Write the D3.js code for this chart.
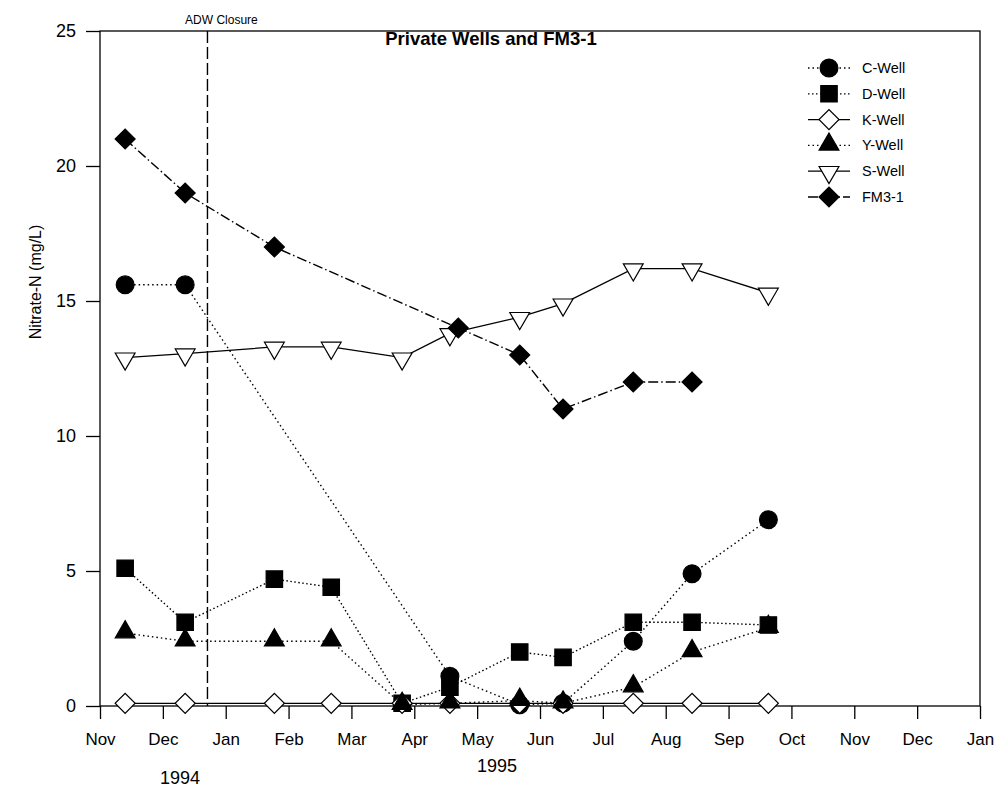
<!DOCTYPE html>
<html>
<head>
<meta charset="utf-8">
<script src="https://cdn.jsdelivr.net/npm/d3@7"></script>
<style>
	body { margin: 0; background: white; }
	text { font-family: "Liberation Sans", Arial, sans-serif; }
</style>
</head>
<body>
<script>
// sampling dates, month labels and measured values
let sampleDates = ['1994-11-13', '1994-12-12', '1995-01-25', '1995-02-20', '1995-03-26',
	'1995-04-18', '1995-05-22', '1995-06-12', '1995-07-16', '1995-08-14', '1995-09-20'];
let fmDates = ['1994-11-13', '1994-12-12', '1995-01-25', '1995-04-22', '1995-05-22',
	'1995-06-12', '1995-07-16', '1995-08-14'];
let monthLabels = ['Nov', 'Dec', 'Jan', 'Feb', 'Mar', 'Apr', 'May', 'Jun', 'Jul', 'Aug',
	'Sep', 'Oct', 'Nov', 'Dec', 'Jan'];
let yTicks = [0, 5, 10, 15, 20, 25];
let closureDate = '1994-12-23';

let cWell = [15.6, 15.6, null, null, null, 1.1, 0.05, 0.1, 2.4, 4.9, 6.9];
let dWell = [5.1, 3.1, 4.7, 4.4, 0.1, 0.7, 2.0, 1.8, 3.1, 3.1, 3.0];
let kWell = [0.1, 0.1, 0.1, 0.1, 0.1, 0.1, 0.1, 0.1, 0.1, 0.1, 0.1];
let yWell = [2.7, 2.4, 2.4, 2.4, 0.05, 0.1, 0.2, 0.1, 0.7, 2.0, 2.9];
let sWell = [12.9, 13.05, 13.3, 13.3, 12.9, 13.8, 14.4, 14.9, 16.2, 16.2, 15.3];
let fm31 = [21, 19, 17, 14, 13, 11, 12, 12];

// months since 1 Nov 1994, with the day as a fraction of the month
function monthIndex(s) {
	let d = new Date(s + 'T00:00:00');
	let m = (d.getFullYear() - 1994) * 12 + d.getMonth() - 10;
	let days = new Date(d.getFullYear(), d.getMonth() + 1, 0).getDate();
	return m + (d.getDate() - 1) / days;
}

let dotted = '1.5,3';
let dashDot = '10,3,1.5,3';

let series = [
	{ name: 'C-Well', dates: sampleDates, values: cWell, shape: 'circle', fill: 'black', dash: dotted },
	{ name: 'D-Well', dates: sampleDates, values: dWell, shape: 'square', fill: 'black', dash: '1.5,2.5' },
	{ name: 'K-Well', dates: sampleDates, values: kWell, shape: 'diamond', fill: 'white', dash: null },
	{ name: 'Y-Well', dates: sampleDates, values: yWell, shape: 'triangle', fill: 'black', dash: dotted },
	{ name: 'S-Well', dates: sampleDates, values: sWell, shape: 'down', fill: 'white', dash: null },
	{ name: 'FM3-1', dates: fmDates, values: fm31, shape: 'diamond', fill: 'black', dash: dashDot }
];

let svgWidth = 1001
let svgHeight = 807
let padding = { 'left': 100, 'right': 21, 'top': 31, 'bottom': 101 }

let svg = d3.select('body').append('svg')
	.attr('width', svgWidth)
	.attr('height', svgHeight)

let x = d3.scaleLinear()
	.domain([0, 14])
	.range([padding.left, svgWidth - padding.right]);
let y = d3.scaleLinear()
	.domain([0, 25])
	.range([svgHeight - padding.bottom, padding.top]);

// frame
svg.append('rect')
	.attr('x', padding.left)
	.attr('y', padding.top)
	.attr('width', svgWidth - padding.left - padding.right)
	.attr('height', svgHeight - padding.top - padding.bottom)
	.attr('fill', 'none')
	.attr('stroke', 'black')
	.attr('stroke-width', 1.3)

let axis_x = d3.axisBottom(x)
	.tickValues(d3.range(0, 15))
	.tickFormat(i => monthLabels[i])
	.tickSize(13)
	.tickPadding(14);
let axis_y = d3.axisLeft(y)
	.tickValues(yTicks)
	.tickSize(14)
	.tickPadding(10);

let gx = svg.append('g')
	.attr('transform', `translate(0, ${svgHeight - padding.bottom})`)
	.call(axis_x)
gx.select('.domain').remove()
gx.selectAll('line').attr('stroke-width', 1.3)
gx.selectAll('text')
	.attr('font-size', '17px')
	.attr('fill', 'black')

let gy = svg.append('g')
	.attr('transform', `translate(${padding.left}, 0)`)
	.call(axis_y)
gy.select('.domain').remove()
gy.selectAll('line').attr('stroke-width', 1.3)
gy.selectAll('text')
	.attr('font-size', '18px')
	.attr('fill', 'black')

svg.append('text')
	.attr('transform', `translate(41, 282) rotate(-90)`)
	.attr('text-anchor', 'middle')
	.attr('font-size', '16px')
	.text('Nitrate-N (mg/L)')

svg.append('text')
	.attr('x', 180)
	.attr('y', 784)
	.attr('text-anchor', 'middle')
	.attr('font-size', '18px')
	.text('1994')
svg.append('text')
	.attr('x', 497)
	.attr('y', 772)
	.attr('text-anchor', 'middle')
	.attr('font-size', '18px')
	.text('1995')

// ADW closure marker
let xc = x(monthIndex(closureDate));
svg.append('line')
	.attr('x1', xc)
	.attr('x2', xc)
	.attr('y1', padding.top)
	.attr('y2', svgHeight - padding.bottom)
	.attr('stroke', 'black')
	.attr('stroke-width', 1.4)
	.attr('stroke-dasharray', '12,4')
svg.append('text')
	.attr('x', xc + 14)
	.attr('y', 24)
	.attr('text-anchor', 'middle')
	.attr('font-size', '12px')
	.text('ADW Closure')

svg.append('text')
	.attr('x', 491)
	.attr('y', 45)
	.attr('text-anchor', 'middle')
	.attr('font-size', '18.5px')
	.attr('font-weight', 'bold')
	.text('Private Wells and FM3-1')

function markerPath(shape) {
	if (shape === 'circle') return d3.symbol(d3.symbolCircle, 250)();
	if (shape === 'square') return d3.symbol(d3.symbolSquare, 270)();
	if (shape === 'diamond') return d3.symbol(d3.symbolSquare, 200)();
	return d3.symbol(d3.symbolTriangle, 170)();
}
function markerTransform(shape, px, py) {
	if (shape === 'diamond') return `translate(${px}, ${py}) rotate(45)`;
	if (shape === 'down') return `translate(${px}, ${py + 1}) rotate(180)`;
	if (shape === 'triangle') return `translate(${px}, ${py - 1})`;
	return `translate(${px}, ${py})`;
}

let line = d3.line()
	.x(d => x(d.t))
	.y(d => y(d.v));

let body = svg.append('g').classed('body', true)

series.forEach(s => {
	let pts = [];
	s.values.forEach((v, i) => {
		if (v !== null) pts.push({ t: monthIndex(s.dates[i]), v: v });
	})
	s.points = pts;
	body.append('path')
		.attr('d', line(pts))
		.attr('fill', 'none')
		.attr('stroke', 'black')
		.attr('stroke-width', s.dash ? 1.4 : 1.3)
		.attr('stroke-dasharray', s.dash)
})

series.forEach(s => {
	body.selectAll('.m' + s.shape + s.fill)
		.data(s.points)
		.enter()
		.append('path')
		.attr('d', markerPath(s.shape))
		.attr('transform', d => markerTransform(s.shape, x(d.t), y(d.v)))
		.attr('fill', s.fill)
		.attr('stroke', 'black')
		.attr('stroke-width', 1.2)
})

// legend
let legend = svg.selectAll('.legend')
	.data(series)
	.enter()
	.append('g')
	.attr('class', 'legend')
	.attr('transform', (d, i) => `translate(0, ${68 + i * 25.8})`);

legend.append('line')
	.attr('x1', 808)
	.attr('x2', 850)
	.attr('y1', 0)
	.attr('y2', 0)
	.attr('stroke', 'black')
	.attr('stroke-width', 1.3)
	.attr('stroke-dasharray', d => d.dash)

legend.append('path')
	.attr('d', d => markerPath(d.shape))
	.attr('transform', d => markerTransform(d.shape, 829, 0))
	.attr('fill', d => d.fill)
	.attr('stroke', 'black')
	.attr('stroke-width', 1.2)

legend.append('text')
	.attr('x', 862)
	.attr('y', 5)
	.attr('font-size', '14.5px')
	.text(d => d.name)
</script>
</body>
</html>
